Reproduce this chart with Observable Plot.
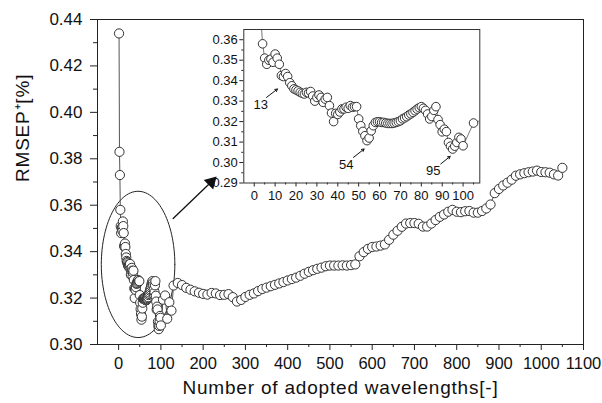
<!DOCTYPE html>
<html><head><meta charset="utf-8">
<script src="https://cdn.jsdelivr.net/npm/d3@7"></script>
<script src="https://cdn.jsdelivr.net/npm/@observablehq/plot@0.6"></script>
<style>
body{margin:0;background:#fff;}
#wrap{position:relative;width:602px;height:403px;overflow:hidden;background:#fff;}
#main{position:absolute;left:0;top:0;}
#inset{position:absolute;left:200px;top:20px;}
</style></head><body><div id="wrap"><div id="main"></div><div id="inset"></div></div>
<script>
// ---- data ----
const xFine = d3.range(1, 101);
const yFine = [0.434,0.383,0.373,0.358,0.351,0.348,0.350,0.3505,0.349,0.353,
0.351,0.348,0.3425,0.342,0.3435,0.342,0.339,0.3375,0.336,0.3355,
0.335,0.3343,0.3338,0.3335,0.3343,0.334,0.3347,0.3325,0.330,0.3318,
0.333,0.3318,0.3294,0.331,0.3318,0.3278,0.3242,0.320,0.324,0.3235,
0.3247,0.3262,0.3262,0.327,0.3265,0.3278,0.327,0.3273,0.3273,0.3213,
0.318,0.3152,0.3131,0.3107,0.312,0.3155,0.318,0.3196,0.3199,0.3199,
0.3196,0.3196,0.3193,0.3191,0.3191,0.3191,0.3193,0.3196,0.3200,0.3204,
0.3213,0.3218,0.3224,0.3232,0.3238,0.3245,0.3253,0.3261,0.3268,0.3273,
0.3265,0.3255,0.3237,0.3213,0.3225,0.3255,0.3273,0.3210,0.3185,0.3150,
0.3163,0.3151,0.3098,0.3080,0.3066,0.3080,0.3098,0.3123,0.3115,0.3082];
const xCoarse = [105,110,115,120,125].concat(d3.range(130, 1051, 10));
const yCoarse = [0.3193,0.3211,0.3111,0.3182,0.3146,
0.3254,0.3265,0.3256,0.3244,0.3236,0.3229,0.3223,0.3218,0.3215,0.3222,
0.3220,0.3213,0.3214,0.3217,0.3204,0.3185,0.3192,0.3205,0.3214,0.3220,
0.3230,0.3239,0.3245,0.3251,0.3257,0.3263,0.3269,0.3276,0.3282,0.3288,
0.3296,0.3305,0.3313,0.3320,0.3326,0.3331,0.3337,0.3340,0.3340,0.3340,
0.3341,0.3340,0.3342,0.3345,0.3380,0.3398,0.3412,0.3420,0.3422,0.3426,
0.3431,0.3451,0.3473,0.3490,0.3507,0.3521,0.3523,0.3523,0.3520,0.3508,
0.3508,0.3521,0.3536,0.3550,0.3560,0.3572,0.3580,0.3572,0.3570,0.3574,
0.3575,0.3568,0.3568,0.3575,0.3586,0.3603,0.3652,0.3670,0.3685,0.3697,
0.3710,0.3727,0.3733,0.3738,0.3742,0.3745,0.3749,0.3743,0.3742,0.3740,
0.3733,0.3728,0.3761];

const xTicks = d3.range(0, 1101, 100);
const xMinor = d3.range(50, 1100, 100);
const yTicks = [0.30,0.32,0.34,0.36,0.38,0.40,0.42,0.44];
const yMinor = [0.31,0.33,0.35,0.37,0.39,0.41,0.43];
const insetXTicks = d3.range(0, 101, 10);
const insetXMinor = d3.range(5, 106, 10);
const insetYTicks = [0.29,0.30,0.31,0.32,0.33,0.34,0.35,0.36];
const insetYMinor = [0.295,0.305,0.315,0.325,0.335,0.345,0.355];

const xLabel = "Number of adopted wavelengths[-]";
const yLabel = "RMSEP\u207A[%]";

// annotation (data coordinates)
const ellipseCenter = [46, 0.3345], ellipseRadii = [87, 0.0315];
const mainArrow = [{x1:129, y1:0.3543, x2:219, y2:0.3700}];
const insetLabels = [{x:3.1, y:0.328, t:"13"},{x:44, y:0.2987, t:"54"},{x:85.7, y:0.296, t:"95"}];
const insetArrows = [{x1:5.85,y1:0.3318,x2:11.1,y2:0.3359},{x1:47.5,y1:0.3025,x2:52.6,y2:0.3066},{x1:89.3,y1:0.2993,x2:93.8,y2:0.3030}];

// ---- build ----
const fine = xFine.map((x,i)=>({x, y:yFine[i]}));
const all = fine.concat(xCoarse.map((x,i)=>({x, y:yCoarse[i]})));
const ellipse = d3.range(0, 361, 3).map(a => ({
  x: ellipseCenter[0] + ellipseRadii[0]*Math.cos(a*Math.PI/180),
  y: ellipseCenter[1] + ellipseRadii[1]*Math.sin(a*Math.PI/180)}));

const font = "'Liberation Sans', Arial, Helvetica, sans-serif";

const main = Plot.plot({
  width:602, height:403, marginLeft:97, marginRight:19, marginTop:19, marginBottom:59,
  x:{domain:[-50,1100], label:null},
  y:{domain:[0.30,0.44], label:null},
  style:{fontFamily:font, fontSize:"17px", color:"#111", background:"transparent"},
  marks:[
    Plot.axisX(xTicks, {tickSize:6, tickPadding:7, fontSize:16.5, tickFormat:d3.format("d"), stroke:"#222"}),
    Plot.axisX(xMinor, {tickSize:3, text:null, stroke:"#222"}),
    Plot.axisY(yTicks, {tickSize:7, tickPadding:8, fontSize:17, tickFormat:d3.format(".2f"), stroke:"#222"}),
    Plot.axisY(yMinor, {tickSize:4, text:null, stroke:"#222"}),
    Plot.line(ellipse, {x:"x", y:"y", stroke:"#222", strokeWidth:1, curve:"linear"}),
    Plot.arrow(mainArrow, {x1:"x1", y1:"y1", x2:"x2", y2:"y2", stroke:"#111", strokeWidth:1.3, headLength:0}),
    Plot.dot(mainArrow, {x:"x2", y:"y2", symbol:"triangle", r:4, fill:"#111", stroke:"#111", rotate:45}),
    Plot.line(all, {x:"x", y:"y", stroke:"#555", strokeWidth:1}),
    Plot.dot(all, {x:"x", y:"y", r:4.6, fill:"white", stroke:"#333", strokeWidth:1}),
    Plot.frame({stroke:"#222"}),
    Plot.text([yLabel], {frameAnchor:"left", dx:-75, rotate:-90, fontSize:19, fill:"#111"}),
    Plot.text([xLabel], {frameAnchor:"bottom", dy:49, fontSize:19, fill:"#111"})
  ]
});
d3.select(main).selectAll("text").filter(function(){return this.textContent===xLabel||this.textContent===yLabel;}).attr("letter-spacing","0.8");
document.getElementById("main").appendChild(main);

const inset = Plot.plot({
  width:300, height:200, marginLeft:43.3, marginRight:20.7, marginTop:9, marginBottom:37.5,
  x:{domain:[-5,108], label:null},
  y:{domain:[0.29,0.365], label:null},
  style:{fontFamily:font, fontSize:"13px", color:"#111", background:"transparent"},
  marks:[
    Plot.frame({fill:"white", stroke:"none"}),
    Plot.axisX(insetXTicks, {tickSize:4, tickPadding:4, fontSize:13, tickFormat:d3.format("d"), stroke:"#222"}),
    Plot.axisX(insetXMinor, {tickSize:2, text:null, stroke:"#222"}),
    Plot.axisY(insetYTicks, {tickSize:4, tickPadding:2, fontSize:13, tickFormat:d3.format(".2f"), stroke:"#222"}),
    Plot.axisY(insetYMinor, {tickSize:2, text:null, stroke:"#222"}),
    Plot.line(all.filter(d=>d.x<=110), {x:"x", y:"y", stroke:"#777", strokeWidth:1, clip:true}),
    Plot.dot(all.filter(d=>d.x<=105), {x:"x", y:"y", r:4.3, fill:"white", stroke:"#333", strokeWidth:1, clip:true}),
    Plot.arrow(insetArrows, {x1:"x1", y1:"y1", x2:"x2", y2:"y2", stroke:"#111", strokeWidth:1, headLength:4}),
    Plot.text(insetLabels, {x:"x", y:"y", text:"t", fontSize:13, fill:"#111"}),
    Plot.frame({stroke:"#333"})
  ]
});
document.getElementById("inset").appendChild(inset);
</script></body></html>
